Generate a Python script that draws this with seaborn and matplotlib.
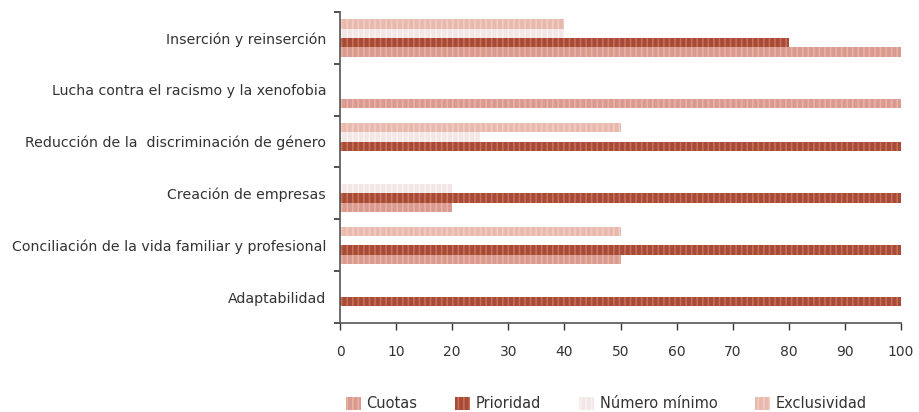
import matplotlib
matplotlib.use("Agg")
import matplotlib.pyplot as plt
import seaborn as sns
import pandas as pd
from matplotlib.patches import Patch

categories = [
    "Inserción y reinserción",
    "Lucha contra el racismo y la xenofobia",
    "Reducción de la  discriminación de género",
    "Creación de empresas",
    "Conciliación de la vida familiar y profesional",
    "Adaptabilidad",
]
series = ["Cuotas", "Prioridad", "Número mínimo", "Exclusividad"]
cuotas = [100, 100, 0, 20, 50, 0]
prioridad = [80, 0, 100, 100, 100, 100]
numero_minimo = [40, 0, 25, 20, 0, 0]
exclusividad = [40, 0, 50, 0, 50, 0]
x_ticks = [0, 10, 20, 30, 40, 50, 60, 70, 80, 90, 100]

face = {"Cuotas": "#d99a96", "Prioridad": "#a64a3c",
        "Número mínimo": "#f3e6e6", "Exclusividad": "#e8b9b0"}
stripe = {"Cuotas": "#eab49a", "Prioridad": "#c9704c",
          "Número mínimo": "#fbf3f0", "Exclusividad": "#f2cdbd"}

vals = {"Cuotas": cuotas, "Prioridad": prioridad,
        "Número mínimo": numero_minimo, "Exclusividad": exclusividad}
rows = []
for s in series:
    for c, v in zip(categories, vals[s]):
        rows.append({"cat": c, "serie": s, "val": v})
df = pd.DataFrame(rows)

sns.set_theme(style="white")
plt.rcParams["font.family"] = ["DejaVu Sans"]
plt.rcParams["hatch.linewidth"] = 1.2

fig = plt.figure(figsize=(9.2, 4.12), dpi=100)
ax = fig.add_axes([0.3696, 0.216, 0.6098, 0.755])

hue_order = ["Exclusividad", "Número mínimo", "Prioridad", "Cuotas"]
sns.barplot(data=df, y="cat", x="val", hue="serie", hue_order=hue_order,
            order=categories, orient="h", width=0.72, ax=ax,
            palette=[face[h] for h in hue_order], legend=False,
            saturation=1)

for cont, h in zip(ax.containers, hue_order):
    for bar in cont:
        bar.set_hatch("|||")
        bar.set_edgecolor(stripe[h])
        bar.set_linewidth(0)

ax.set_xlim(0, 100)
ax.set_ylim(5.5, -0.5)
ax.set_xticks(x_ticks)
ax.set_xticklabels([str(t) for t in x_ticks], fontsize=10, color="#333333")
ax.set_yticks(range(len(categories)))
ax.set_yticklabels(categories, fontsize=10.2, color="#333333")
ax.set_yticks([i - 0.5 for i in range(len(categories) + 1)], minor=True)
ax.tick_params(axis="y", which="major", length=0, pad=10)
ax.tick_params(axis="y", which="minor", length=4, width=1.2, color="#333333", left=True)
ax.tick_params(axis="x", which="major", length=5, width=1, color="#333333", bottom=True, pad=11)
ax.set_xlabel("")
ax.set_ylabel("")
for sp in ["top", "right"]:
    ax.spines[sp].set_visible(False)
for sp in ["left", "bottom"]:
    ax.spines[sp].set_color("#555555")
    ax.spines[sp].set_linewidth(1.2)

handles = [Patch(facecolor=face[s], edgecolor=stripe[s], hatch="|||", linewidth=0) for s in series]
fig.legend(handles, series, loc="lower left", bbox_to_anchor=(0.362, -0.03), ncol=4,
           frameon=False, fontsize=10.5, handlelength=1.0, handleheight=1.0,
           columnspacing=2.6, handletextpad=0.4, labelcolor="#333333")

fig.savefig("out.png", dpi=100)
